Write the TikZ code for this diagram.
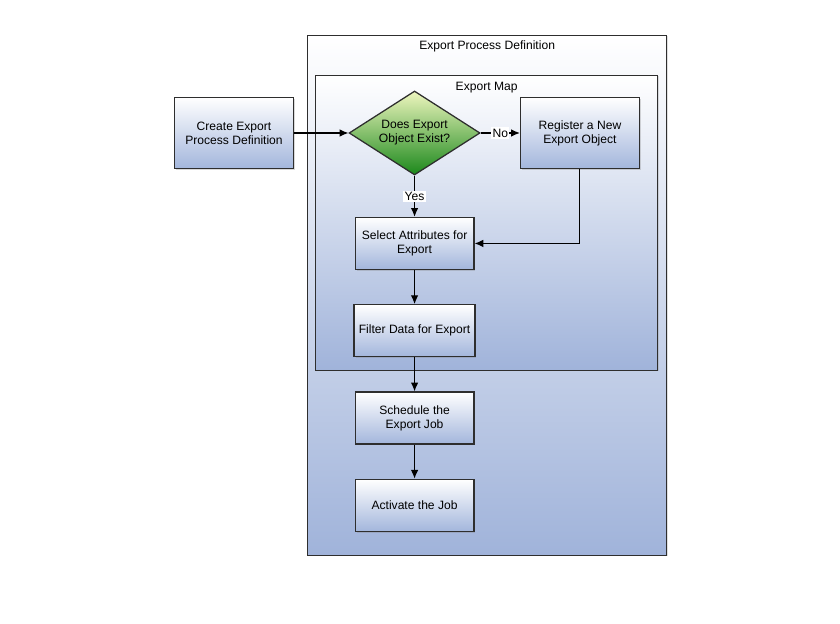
\documentclass[tikz,border=0pt]{standalone}
\usepackage{fontspec}
\setmainfont{Liberation Sans}
\usepackage{xcolor}
\usepackage{tikz}
\usetikzlibrary{arrows.meta,positioning,shadows}
\usetikzlibrary{shapes.geometric}

\definecolor{boxblue}{HTML}{A3B6DC}
\definecolor{mapblue}{HTML}{A0B3DA}
\definecolor{paleleaf}{HTML}{EEF6BE}
\definecolor{darkleaf}{HTML}{1B881B}
\definecolor{edgegray}{HTML}{2E2E2E}

\begin{document}
\begin{tikzpicture}[
    node distance=8.5mm,%boxes in the column sit this far apart
    font=\fontsize{8.6pt}{10pt}\selectfont,
    container/.style={
        draw=edgegray,
        line width=0.9pt,
        top color=white,
        bottom color=mapblue,
        drop shadow={opacity=0.25,shadow xshift=0.8pt,shadow yshift=-0.8pt}},
    stepbox/.style={
        % The shape:
        rectangle,
        minimum width=2.97cm,
        minimum height=1.3cm,
        align=center,
        % The fill
        draw=edgegray,
        line width=0.9pt,
        top color=white,
        bottom color=boxblue,
        drop shadow={opacity=0.3,shadow xshift=1pt,shadow yshift=-1pt}},
    decision/.style={
        diamond,
        aspect=1.56,
        inner sep=0pt,
        minimum width=3.275cm,
        minimum height=2.1cm,
        align=center,
        draw=edgegray,
        line width=0.9pt,
        top color=paleleaf,
        bottom color=darkleaf},
    flow/.style={line width=0.8pt,-{Latex[length=2.2mm,width=1.9mm]}},
    tag/.style={fill=white,inner sep=1pt}]
  \useasboundingbox (0,0) rectangle (21,15.6);
  % the two frames
  \node (procdef) [container,anchor=south west,minimum width=8.975cm,minimum height=13cm] at (7.675,1.7) {};
  \node (procdeftitle) at ([yshift=-0.3cm]procdef.north) {Export Process Definition};
  \node (exportmap) [container,anchor=south west,minimum width=8.55cm,minimum height=7.375cm] at (7.875,6.325) {};
  \node (exportmaptitle) at ([yshift=-0.33cm]exportmap.north) {Export Map};
  % the steps
  \node (create) [stepbox,minimum height=1.78cm] at (5.85,12.275) {Create Export\\Process Definition};
  \node (exists) [decision,right=1.36cm of create] {Does Export\\Object Exist?};
  \node (register) [stepbox,minimum height=1.78cm,right=0.98cm of exists] {Register a New\\Export Object};
  \node (select) [stepbox,below=1.03cm of exists] {Select Attributes for\\Export};
  \node (filter) [stepbox,below=of select] {Filter Data for Export};
  \node (schedule) [stepbox,below=of filter] {Schedule the\\Export Job};
  \node (activate) [stepbox,below=of schedule] {Activate the Job};
  % the connectors
  \draw[flow] (create) -- (exists);
  \draw[flow] (exists) -- node[tag] {No} (register);
  \draw[flow] (exists) -- node[tag] {Yes} (select);
  \draw[flow] (register.south) |- (select.east);
  \draw[flow] (select) -- (filter);
  \draw[flow] (filter) -- (schedule);
  \draw[flow] (schedule) -- (activate);
\end{tikzpicture}
\end{document}
